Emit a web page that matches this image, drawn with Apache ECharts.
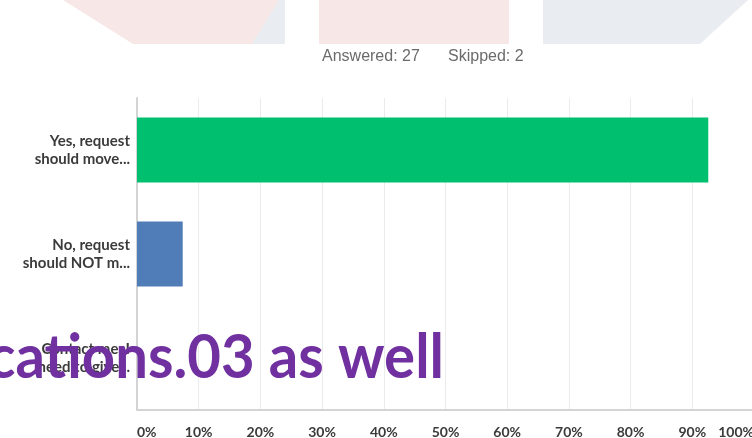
<!DOCTYPE html>
<html>
<head>
<meta charset="utf-8">
<script src="https://cdn.jsdelivr.net/npm/echarts@6/dist/echarts.min.js"></script>
<style>
html,body{margin:0;padding:0;background:#fff;}
#c{width:752px;height:438px;}
</style>
</head>
<body>
<div id="c"></div>
<script>
var categories = ["Yes, request\nshould move...", "No, request\nshould NOT m...", "Contact me, I\nneed to give..."];
var percentValues = [92.59, 7.41, 0];
var barColors = ["#00bf6f", "#507cb7", "#a0a0a0"];
var tickLabels = ["0%", "10%", "20%", "30%", "40%", "50%", "60%", "70%", "80%", "90%", "100%"];
var answeredText = "Answered: 27";
var skippedText = "Skipped: 2";
var overlayText = "cations.03 as well";

var chart = echarts.init(document.getElementById('c'), null, {renderer: 'canvas'});
var option = {
  backgroundColor: '#ffffff',
  animation: false,
  grid: {left: 137, right: -2, top: 98, bottom: 28, containLabel: false, outerBoundsMode: 'none'},
  xAxis: {
    type: 'value', min: 0, max: 100, interval: 10,
    axisLine: {show: true, lineStyle: {color: '#d4d4d4', width: 2}},
    axisTick: {show: false},
    splitLine: {show: true, lineStyle: {color: '#ebebeb', width: 1}},
    axisLabel: {
      formatter: function (v) { return tickLabels[Math.round(v / 10)]; },
      color: '#3b3b3b', fontWeight: 'bold', fontSize: 14, fontFamily: 'Lato',
      margin: 15, alignMinLabel: 'left', alignMaxLabel: 'right'
    }
  },
  yAxis: {
    type: 'category', inverse: true, data: categories,
    axisLine: {show: true, lineStyle: {color: '#d4d4d4', width: 2}},
    axisTick: {show: false},
    axisLabel: {color: '#3b3b3b', fontWeight: 'bold', fontSize: 15, fontFamily: 'Lato', lineHeight: 18, margin: 7, align: 'right'}
  },
  series: [{
    type: 'bar',
    barWidth: 65,
    data: percentValues.map(function (v, i) { return {value: v, itemStyle: {color: barColors[i]}}; })
  }],
  graphic: [
    {type: 'polygon', z: -10, shape: {points: [[63,0],[285,0],[285,44],[133,44]]}, style: {fill: '#f8e7e7'}},
    {type: 'polygon', z: -9, shape: {points: [[279,0],[285,0],[285,44],[252,44]]}, style: {fill: '#e9edf1'}},
    {type: 'rect', z: -10, shape: {x: 319, y: 0, width: 190, height: 44}, style: {fill: '#f8e7e7'}},
    {type: 'polygon', z: -10, shape: {points: [[543,0],[748,0],[700,44],[543,44]]}, style: {fill: '#e9edf1'}},
    {type: 'text', left: 322, top: 49, style: {text: answeredText, fill: '#6b6b6b', font: '16px "Liberation Sans"'}},
    {type: 'text', left: 448, top: 49, style: {text: skippedText, fill: '#6b6b6b', font: '16px "Liberation Sans"'}},
    {type: 'text', z: 100, x: 444, y: 358, scaleX: 0.937, style: {text: overlayText, fill: '#7030a0', font: 'bold 62px Lato', align: 'right', verticalAlign: 'middle'}}
  ]
};
chart.setOption(option);
</script>
</body>
</html>
